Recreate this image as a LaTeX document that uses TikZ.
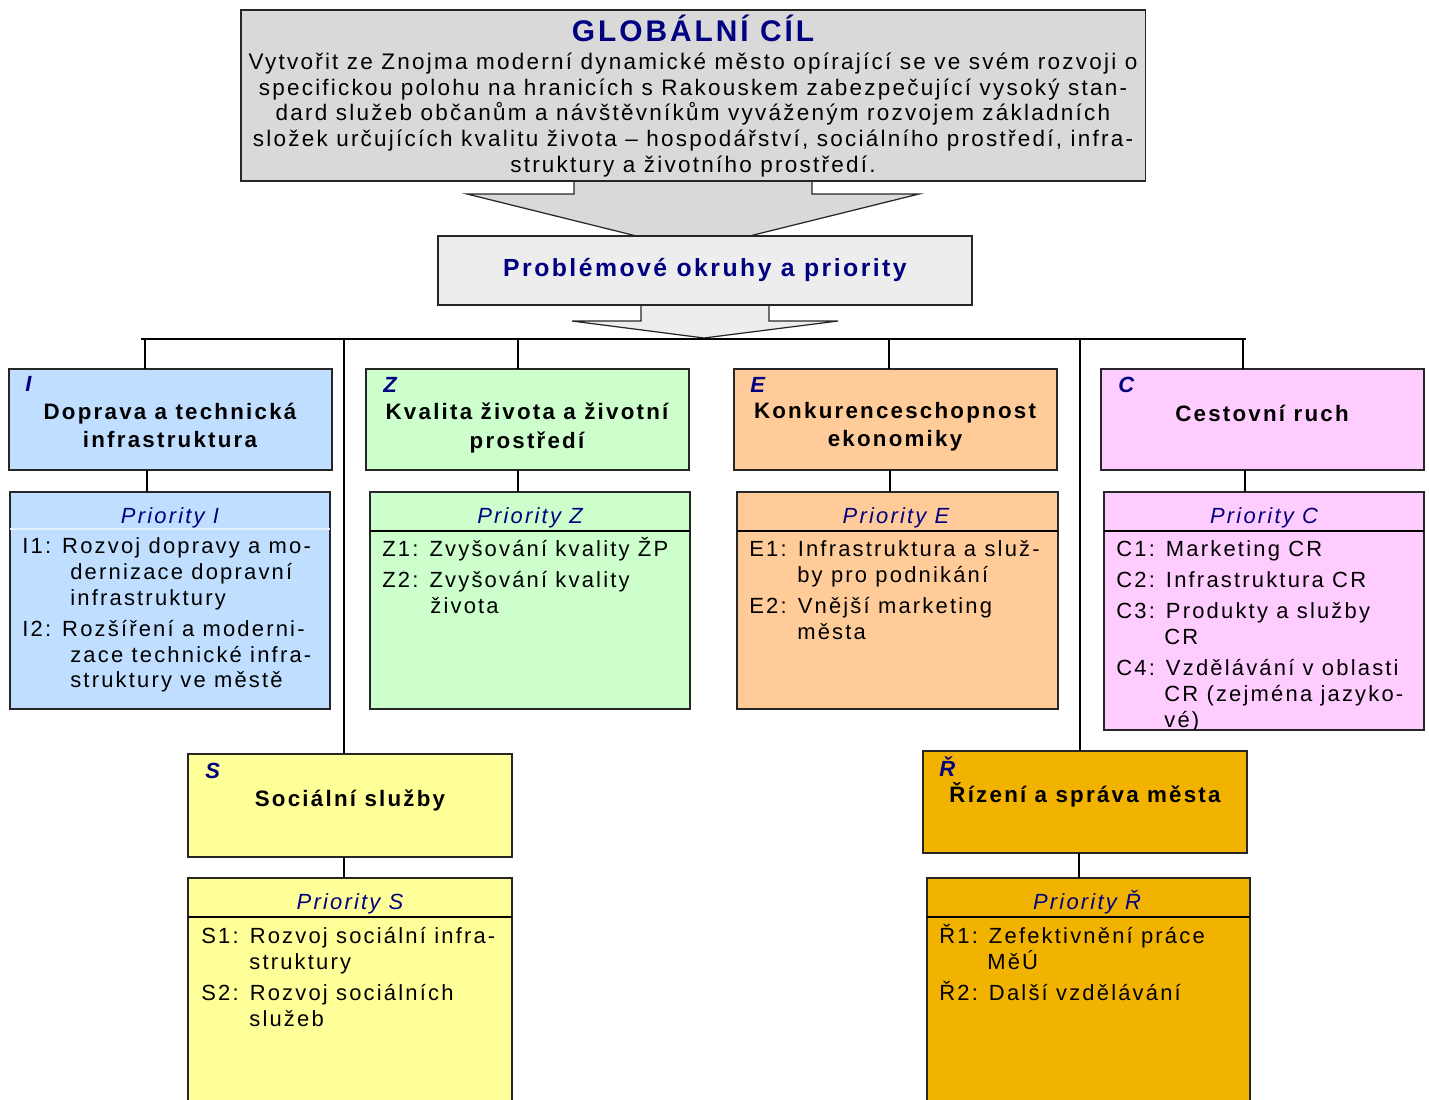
\documentclass[tikz,border=0pt]{standalone}
\usepackage{fontspec}
\setmainfont{Liberation Sans}[LetterSpace=10]
\usetikzlibrary{positioning,calc}

\definecolor{navytext}{HTML}{000080}
\definecolor{goalgray}{HTML}{D9D9D9}
\definecolor{probgray}{HTML}{EDEDED}
\definecolor{fillI}{HTML}{C0DEFF}
\definecolor{fillZ}{HTML}{CCFFCC}
\definecolor{fillE}{HTML}{FFCC99}
\definecolor{fillC}{HTML}{FFCCFF}
\definecolor{fillS}{HTML}{FFFF99}
\definecolor{fillR}{HTML}{F2B300}

\newcommand{\contind}{\hspace*{0.96cm}}
\newcommand{\topstrut}{\rule{0pt}{12pt}}

\begin{document}
\begin{tikzpicture}[
            x=0.02cm, y=-0.02cm,
            font=\fontsize{12.5}{14.7}\selectfont,
            box/.style={rectangle, draw=black!85, line width=0.7pt, inner sep=0pt, outer sep=0pt, anchor=north west},
            goalbox/.style={box, fill=goalgray, minimum width=18.1cm, minimum height=3.42cm},
            probbox/.style={box, fill=probgray, minimum width=10.68cm, minimum height=1.38cm},
            areabox/.style={box, minimum width=6.46cm, minimum height=2.02cm},
            priobox/.style={box, minimum width=6.4cm, minimum height=4.34cm},
            lowbox/.style={box, minimum width=6.48cm, minimum height=4.48cm},
            headline/.style={font=\fontsize{17}{19}\selectfont\bfseries, text=navytext, inner sep=0pt},
            tagletter/.style={font=\fontsize{12.5}{14.7}\selectfont\bfseries\itshape, text=navytext, inner sep=0pt, anchor=west},
            areatitle/.style={font=\fontsize{12.7}{16}\selectfont\bfseries, align=center, inner sep=0pt},
            prhead/.style={font=\fontsize{12.5}{14.7}\selectfont\itshape, text=navytext, inner sep=0pt},
            itemtext/.style={align=left, inner sep=0pt, anchor=north west},
            sepline/.style={draw=black, line width=0.8pt},
            link/.style={draw=black, line width=0.7pt},
            blockarrow/.style={draw=black!85, line width=0.7pt, line join=miter}
        ]
        \useasboundingbox (0,0) rectangle (1429,1099);
        \clip (0,0) rectangle (1429,1099);

        % Sipky
        \draw [blockarrow, fill=goalgray] (574,181) -- (574,194) -- (467,194) -- (693,250) -- (919,194) -- (812,194) -- (812,181);
        \draw [blockarrow, fill=probgray] (641,305) -- (641,321) -- (572,321) -- (704,338) -- (838,321) -- (769,321) -- (769,305);

        % Globalni cil
        \node (goal) [goalbox] at (241,10) {};
        \node (goaltitle) [headline] at (693,28) {GLOBÁLNÍ CÍL};
        \node (goaltext) [align=center, inner sep=0pt, font=\fontsize{12.8}{14.7}\selectfont] at (693,115) {Vytvořit ze Znojma moderní dynamické město opírající se ve svém rozvoji o\\
            specifickou polohu na hranicích s Rakouskem zabezpečující vysoký stan-\\
            dard služeb občanům a návštěvníkům vyváženým rozvojem základních\\
            složek určujících kvalitu života – hospodářství, sociálního prostředí, infra-\\
            struktury a životního prostředí.};

        \node (prob) [probbox] at (438,236) {};
        \node (probtitle) [headline, font=\fontsize{14.1}{16}\selectfont\bfseries] at ([yshift=0.02cm]prob.center) {Problémové okruhy a priority};

        % Okruhy
        \node (Ibox) [areabox, fill=fillI] at (9,369) {};
        \node (Zbox) [areabox, fill=fillZ] at (366,369) {};
        \node (Ebox) [areabox, fill=fillE] at (734,369) {};
        \node (Cbox) [areabox, fill=fillC] at (1101,369) {};
        \node (Sbox) [areabox, fill=fillS, minimum width=6.48cm, minimum height=2.06cm] at (188,754) {};
        \node (Rbox) [areabox, fill=fillR, minimum width=6.48cm, minimum height=2.04cm] at (923,751) {};

        \node (Itag) [tagletter] at (25,384) {I};
        \node (Ztag) [tagletter] at (383,385) {Z};
        \node (Etag) [tagletter] at (750,385) {E};
        \node (Ctag) [tagletter] at (1118,385) {C};
        \node (Stag) [tagletter] at (205,771) {S};
        \node (Rtag) [tagletter] at (939,767) {Ř};

        \node (Ititle) [areatitle] at (170,425) {Doprava a technická\\infrastruktura};
        \node (Ztitle) [areatitle] at (527,428) {Kvalita života a životní\\prostředí};
        \node (Etitle) [areatitle] at (895,427) {Konkurenceschopnost\\ekonomiky};
        \node (Ctitle) [areatitle] at (1262,413) {Cestovní ruch};
        \node (Stitle) [areatitle] at (350,800) {Sociální služby};
        \node (Rtitle) [areatitle] at (1085,795) {Řízení a správa města};

        % Priority
        \node (pI) [priobox, fill=fillI] at (10,492) {};
        \node (pZ) [priobox, fill=fillZ] at (370,492) {};
        \node (pE) [priobox, fill=fillE, minimum width=6.42cm] at (737,492) {};
        \node (pC) [priobox, fill=fillC, minimum height=4.76cm] at (1104,492) {};
        \node (pS) [lowbox, fill=fillS] at (188,878) {};
        \node (pR) [lowbox, fill=fillR, minimum width=6.46cm] at (927,878) {};

        \draw [sepline, draw=white!55!fillI] ([yshift=-0.74cm]pI.north west) -- ([yshift=-0.74cm]pI.north east);
        \draw [sepline] ([yshift=-0.78cm]pZ.north west) -- ([yshift=-0.78cm]pZ.north east);
        \draw [sepline] ([yshift=-0.78cm]pE.north west) -- ([yshift=-0.78cm]pE.north east);
        \draw [sepline] ([yshift=-0.78cm]pC.north west) -- ([yshift=-0.78cm]pC.north east);
        \draw [sepline] ([yshift=-0.78cm]pS.north west) -- ([yshift=-0.78cm]pS.north east);
        \draw [sepline] ([yshift=-0.78cm]pR.north west) -- ([yshift=-0.78cm]pR.north east);

        \node (hI) [prhead] at (170,518) {Priority I};
        \node (hZ) [prhead] at (530,518) {Priority Z};
        \node (hE) [prhead] at (896,518) {Priority E};
        \node (hC) [prhead] at (1264,518) {Priority C};
        \node (hS) [prhead] at (350,904) {Priority S};
        \node (hR) [prhead] at (1087,902) {Priority Ř};

        \node (iI) [itemtext] at (22,532) {\topstrut I1: Rozvoj dopravy a mo-\\ \contind dernizace dopravní\\ \contind infrastruktury\\[3pt]
            I2: Rozšíření a moderni-\\ \contind zace technické infra-\\ \contind struktury ve městě};
        \node (iZ) [itemtext] at (382,535) {\topstrut Z1: Zvyšování kvality ŽP\\[3pt]
            Z2: Zvyšování kvality\\ \contind života};
        \node (iE) [itemtext] at (749,535) {\topstrut E1: Infrastruktura a služ-\\ \contind by pro podnikání\\[3pt]
            E2: Vnější marketing\\ \contind města};
        \begin{scope}
            \clip (pC.north west) rectangle (pC.south east);
            \node (iC) [itemtext] at (1116,535) {\topstrut C1: Marketing CR\\[3pt]
                C2: Infrastruktura CR\\[3pt]
                C3: Produkty a služby\\ \contind CR\\[3pt]
                C4: Vzdělávání v oblasti\\ \contind CR (zejména jazyko-\\ \contind vé)};
        \end{scope}
        \node (iS) [itemtext] at (201,922) {\topstrut S1: Rozvoj sociální infra-\\ \contind struktury\\[3pt]
            S2: Rozvoj sociálních\\ \contind služeb};
        \node (iR) [itemtext] at (939,922) {\topstrut Ř1: Zefektivnění práce\\ \contind MěÚ\\[3pt]
            Ř2: Další vzdělávání};

        % Spojnice
        \coordinate (busL) at (141,339);
        \coordinate (busR) at (1246,339);
        \draw [link] (busL) -- (busR);

        \draw [link] ([xshift=-0.51cm]Ibox.north |- busL) -- ([xshift=-0.51cm]Ibox.north);
        \draw [link] ([xshift=-0.19cm]Zbox.north |- busL) -- ([xshift=-0.19cm]Zbox.north);
        \draw [link] ([xshift=-0.13cm]Ebox.north |- busL) -- ([xshift=-0.13cm]Ebox.north);
        \draw [link] ([xshift=-0.39cm]Cbox.north |- busL) -- ([xshift=-0.39cm]Cbox.north);
        \draw [link] ([xshift=-0.12cm]Sbox.north |- busL) -- ([xshift=-0.12cm]Sbox.north);
        \draw [link] ([xshift=-0.1cm]Rbox.north |- busL) -- ([xshift=-0.1cm]Rbox.north);

        \draw [link] ([xshift=-0.47cm]Ibox.south) -- ([xshift=-0.47cm]Ibox.south |- pI.north);
        \draw [link] ([xshift=-0.19cm]Zbox.south) -- ([xshift=-0.19cm]Zbox.south |- pZ.north);
        \draw [link] ([xshift=-0.11cm]Ebox.south) -- ([xshift=-0.11cm]Ebox.south |- pE.north);
        \draw [link] ([xshift=-0.35cm]Cbox.south) -- ([xshift=-0.35cm]Cbox.south |- pC.north);
        \draw [link] ([xshift=-0.12cm]Sbox.south) -- ([xshift=-0.12cm]Sbox.south |- pS.north);
        \draw [link] ([xshift=-0.12cm]Rbox.south) -- ([xshift=-0.12cm]Rbox.south |- pR.north);

    \end{tikzpicture}
\end{document}
